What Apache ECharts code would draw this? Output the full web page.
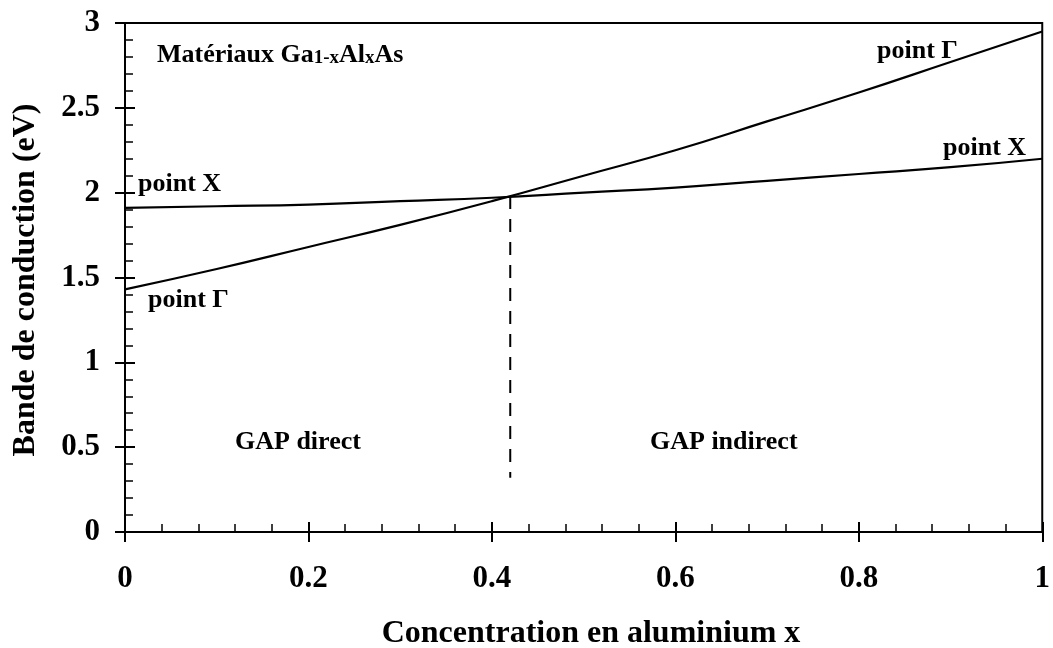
<!DOCTYPE html>
<html>
<head>
<meta charset="utf-8">
<script src="https://cdn.jsdelivr.net/npm/echarts@6/dist/echarts.min.js"></script>
<style>
  html, body { margin: 0; padding: 0; background: #fff; }
  #chart { width: 1053px; height: 648px; }
</style>
</head>
<body>
<div id="chart"></div>
<script>
// Aluminium concentration x (sample points)
const concentration = [0, 0.1, 0.2, 0.3, 0.4, 0.5, 0.6, 0.7, 0.8, 0.9, 1.0];
// Conduction band minimum at the Gamma point (eV)
const gammaBand = [1.43, 1.55, 1.68, 1.81, 1.95, 2.10, 2.25, 2.42, 2.59, 2.77, 2.95];
// Conduction band minimum at the X point (eV)
const xBand = [1.91, 1.92, 1.93, 1.95, 1.97, 2.00, 2.03, 2.07, 2.11, 2.15, 2.20];
// Direct / indirect crossover
const crossoverX = [0.42, 0.42];
const crossoverY = [1.98, 0.32];

const FONT = '"Liberation Serif", "Times New Roman", serif';

function pairs(xs, ys) { return xs.map((v, i) => [v, ys[i]]); }

const chart = echarts.init(document.getElementById('chart'), null, { renderer: 'canvas' });

const axisLineStyle = { color: '#000', width: 2 };
const tickLabel = { color: '#000', fontFamily: FONT, fontWeight: 'bold', fontSize: 31 };
const noteFont = 'bold 26px ' + FONT;
const titleFont = 'bold 32px ' + FONT;

chart.setOption({
  animation: false,
  backgroundColor: '#fff',
  grid: {
    left: 125, right: 4, top: 23, bottom: 116,
    show: true, borderColor: '#000', borderWidth: 2, backgroundColor: 'transparent'
  },
  xAxis: [
    {
      type: 'value', min: 0, max: 1, interval: 0.2,
      axisLine: { lineStyle: axisLineStyle },
      axisTick: { show: true, inside: false, length: 10, lineStyle: { color: '#000', width: 2 } },
      axisLabel: Object.assign({ margin: 31, formatter: v => (v === 0 || v === 1) ? String(v) : v.toFixed(1) }, tickLabel),
      splitLine: { show: false }
    },
    {
      type: 'value', min: 0, max: 1, interval: 0.2, position: 'bottom',
      axisLine: { show: false },
      axisTick: { show: true, inside: true, length: 10, lineStyle: { color: '#000', width: 2 } },
      minorTick: { show: true, splitNumber: 5, length: 8, lineStyle: { color: '#000', width: 1.5 } },
      axisLabel: { show: false },
      splitLine: { show: false }
    }
  ],
  yAxis: [
    {
      type: 'value', min: 0, max: 3, interval: 0.5,
      axisLine: { lineStyle: axisLineStyle },
      axisTick: { show: true, inside: false, length: 10, lineStyle: { color: '#000', width: 2 } },
      axisLabel: Object.assign({ margin: 25, formatter: v => String(v) }, tickLabel),
      splitLine: { show: false }
    },
    {
      type: 'value', min: 0, max: 3, interval: 0.5, position: 'left',
      axisLine: { show: false },
      axisTick: { show: true, inside: true, length: 10, lineStyle: { color: '#000', width: 2 } },
      minorTick: { show: true, splitNumber: 5, length: 8, lineStyle: { color: '#000', width: 1.5 } },
      axisLabel: { show: false },
      splitLine: { show: false }
    }
  ],
  series: [
    {
      name: 'point Γ', type: 'line', smooth: true, showSymbol: false,
      data: pairs(concentration, gammaBand),
      lineStyle: { color: '#000', width: 2.2 }
    },
    {
      name: 'point X', type: 'line', smooth: true, showSymbol: false,
      data: pairs(concentration, xBand),
      lineStyle: { color: '#000', width: 2.2 }
    },
    {
      name: 'transition', type: 'line', showSymbol: false,
      data: pairs(crossoverX, crossoverY),
      lineStyle: { color: '#000', width: 2, type: [13, 10] }
    }
  ],
  graphic: [
    {
      type: 'text', x: 157, y: 68,
      style: {
        text: '{m|Matériaux Ga}{s|1-x}{m|Al}{s|x}{m|As}',
        verticalAlign: 'bottom',
        rich: {
          m: { fontFamily: FONT, fontWeight: 'bold', fontSize: 26, fill: '#000', verticalAlign: 'bottom', lineHeight: 30 },
          s: { fontFamily: FONT, fontWeight: 'bold', fontSize: 19, fill: '#000', verticalAlign: 'bottom', lineHeight: 15 }
        }
      }
    },
    { type: 'text', x: 138, y: 184, style: { text: 'point X', font: noteFont, fill: '#000', verticalAlign: 'middle' } },
    { type: 'text', x: 148, y: 300, style: { text: 'point Γ', font: noteFont, fill: '#000', verticalAlign: 'middle' } },
    { type: 'text', x: 877, y: 51, style: { text: 'point Γ', font: noteFont, fill: '#000', verticalAlign: 'middle' } },
    { type: 'text', x: 943, y: 148, style: { text: 'point X', font: noteFont, fill: '#000', verticalAlign: 'middle' } },
    { type: 'text', x: 235, y: 442, style: { text: 'GAP direct', font: noteFont, fill: '#000', verticalAlign: 'middle' } },
    { type: 'text', x: 650, y: 442, style: { text: 'GAP indirect', font: noteFont, fill: '#000', verticalAlign: 'middle' } },
    {
      type: 'text', x: 591, y: 634,
      style: { text: 'Concentration en aluminium x', font: titleFont, fill: '#000', align: 'center', verticalAlign: 'middle' }
    },
    {
      type: 'text', x: 26, y: 280, rotation: Math.PI / 2,
      style: { text: 'Bande de conduction (eV)', font: titleFont, fill: '#000', align: 'center', verticalAlign: 'middle' }
    }
  ]
});
</script>
</body>
</html>
